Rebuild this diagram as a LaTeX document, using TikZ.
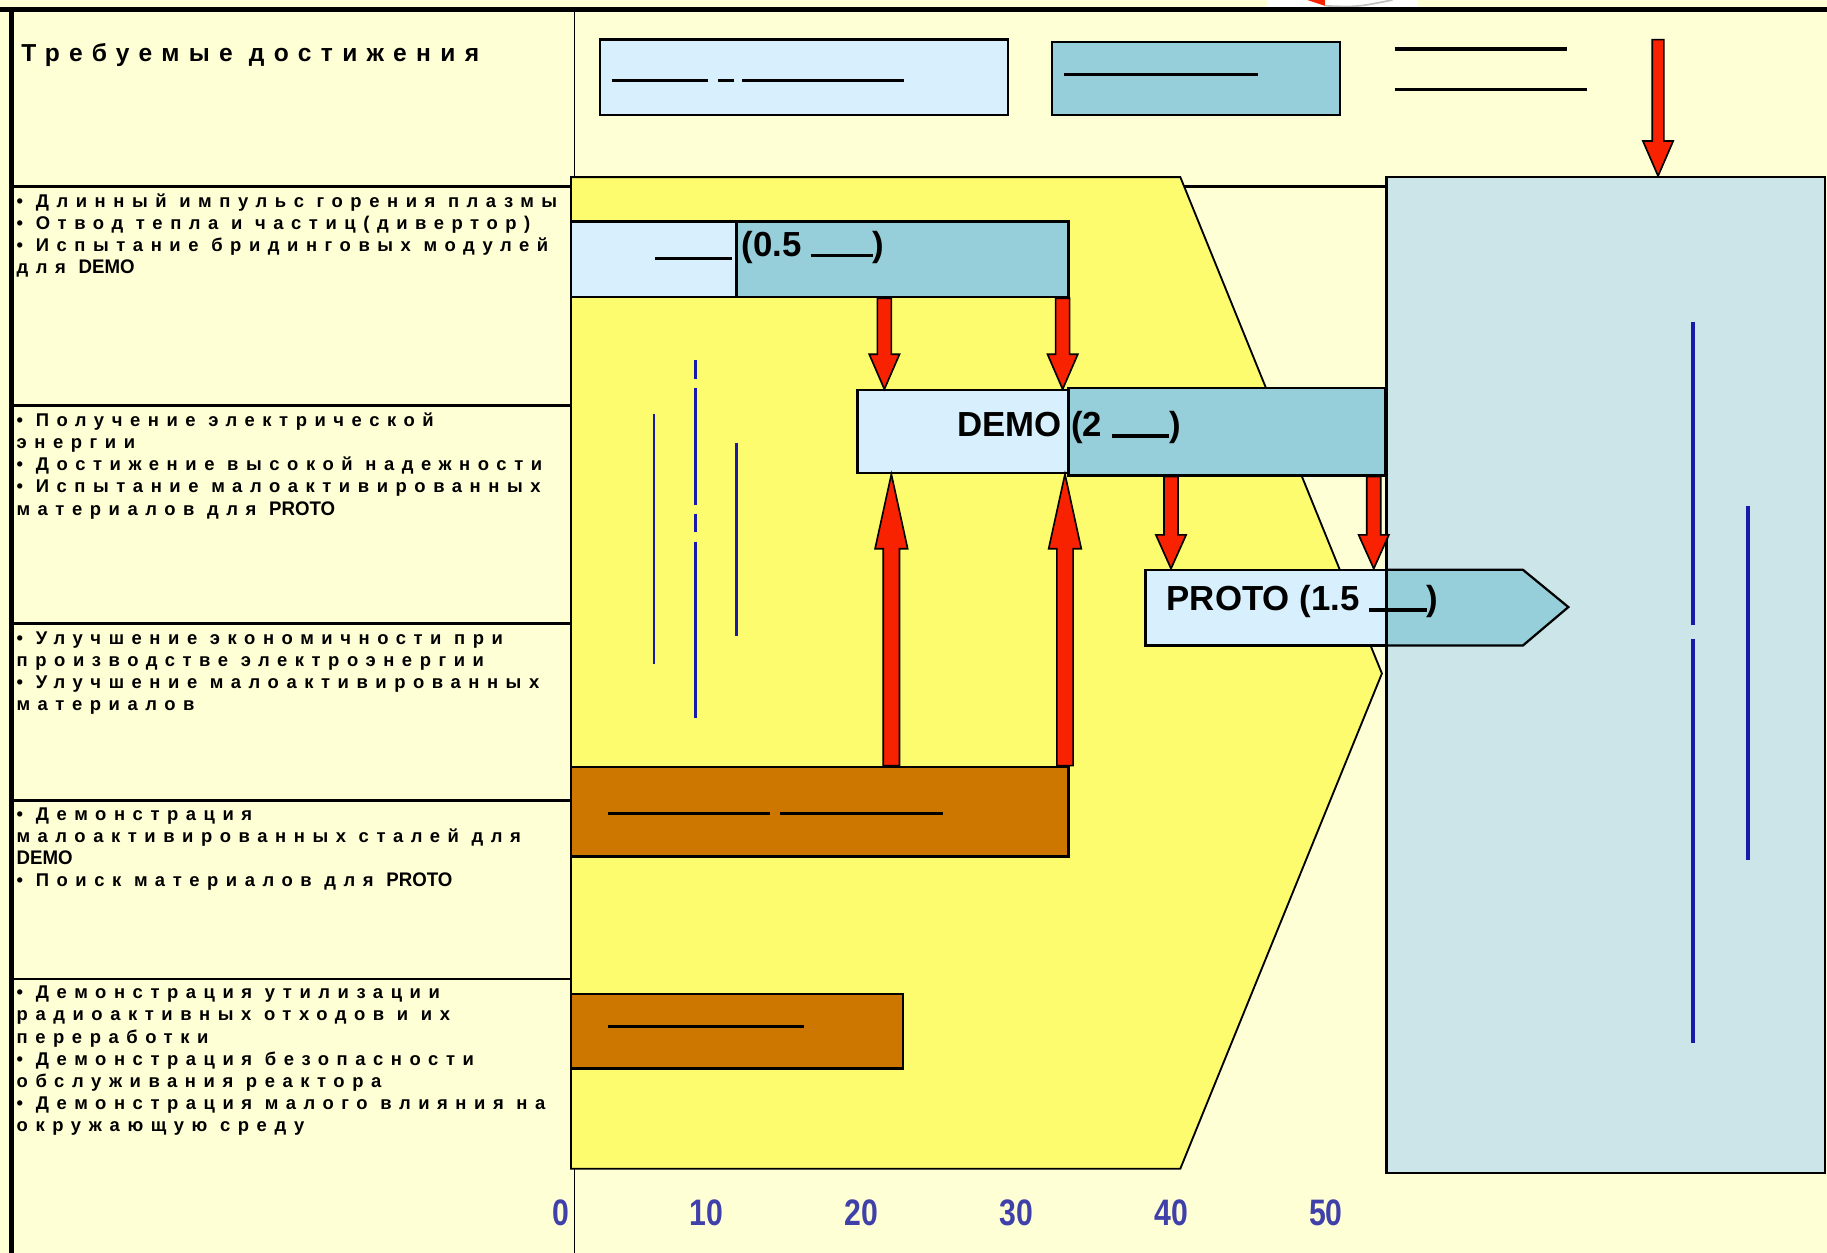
\documentclass[tikz,border=0pt]{standalone}
\usepackage{fontspec}
\setmainfont{Liberation Sans}
\newfontfamily\spfont{Liberation Sans}[LetterSpace=41]
\newfontfamily\latfont{Liberation Sans}[FakeStretch=0.95]
\newfontfamily\axfont{Liberation Sans}[FakeStretch=0.82]
\usetikzlibrary{positioning,fit,calc}
\definecolor{cream}{RGB}{255,255,214}
\definecolor{sun}{RGB}{252,252,110}
\definecolor{pale}{RGB}{216,239,253}
\definecolor{tealbar}{RGB}{150,207,218}
\definecolor{haze}{RGB}{204,229,233}
\definecolor{rust}{RGB}{205,119,0}
\definecolor{redarr}{RGB}{248,34,0}
\definecolor{inkblue}{RGB}{26,26,170}
\definecolor{axisblue}{RGB}{64,64,170}
\newcommand{\lat}[1]{{\latfont\bfseries\fontsize{9.6}{10.8}\selectfont #1}}
\newcommand{\blank}[1]{\rule[-0.5pt]{#1}{1.7pt}}
\def\pxu{0.569pt}
\newcommand{\blockarrow}[6]{%
  \draw[blockarrow] let \p1=(#2), \p2=(#3), \p3=(#1,0),
    \n2={ifthenelse(\y2>\y1,-1,1)*#6*0.569} in
    (\x3-#4*\pxu,\y1) -- (\x3-#4*\pxu,\y2+\n2) -- (\x3-#5*\pxu,\y2+\n2) -- (\x3,\y2)
    -- (\x3+#5*\pxu,\y2+\n2) -- (\x3+#4*\pxu,\y2+\n2) -- (\x3+#4*\pxu,\y1) -- cycle;}

\begin{document}
\begin{tikzpicture}[x=0.02cm,y=-0.02cm,
 rowtext/.style={anchor=north west,inner sep=0pt,align=left,
                 font=\spfont\bfseries\fontsize{9}{10.8}\selectfont},
 barbox/.style={draw=black,line width=1.1pt,inner sep=0pt},
 pale bar/.style={barbox,fill=pale},
 teal bar/.style={barbox,fill=tealbar},
 rust bar/.style={barbox,fill=rust},
 bartext/.style={anchor=base west,inner sep=0pt,font=\bfseries\fontsize{17}{20}\selectfont},
 axisnum/.style={anchor=base,inner sep=0pt,text=axisblue,font=\axfont\bfseries\fontsize{18}{20}\selectfont},
 blankline/.style={line width=1.7pt},
 sepline/.style={line width=1.1pt},
 blueline/.style={draw=inkblue,line width=1.1pt},
 blockarrow/.style={draw=black,line width=0.8pt,fill=redarr,line join=miter}
]
\useasboundingbox (0,0) rectangle (1568,1075);
\fill[cream] (0,0) rectangle (1568,1075);
\fill[white] (1087,0) rectangle (1217,6);
\fill[redarr] (1122,0) -- (1137,0) -- (1137,5) -- cycle;
\draw[gray!50,line width=0.8pt] (1137,5) .. controls (1165,6) .. (1195,0);
\draw[line width=0.9pt] (493,8) -- (493,1075);
\draw[sepline] (10,160) -- (1190,160);
\draw[sepline] (10,348) -- (490,348);
\draw[sepline] (10,535) -- (490,535);
\draw[sepline] (10,687) -- (490,687);
\draw[sepline] (10,840) -- (490,840);
\draw[line width=2.6pt] (0,8) -- (1568,8);
\draw[line width=2.6pt] (10,8) -- (10,1075);

\node[anchor=west,inner sep=0pt,font=\spfont\bfseries\fontsize{12}{14}\selectfont\addfontfeatures{LetterSpace=38}] (title) at (18,47) {Требуемые достижения};
\node[rowtext] (row1) at (14,166) {• Длинный импульс горения плазмы\\• Отвод тепла и частиц(дивертор)\\• Испытание бридинговых модулей\\для \lat{DEMO}};
\node[rowtext] (row2) at (14,354) {• Получение электрической\\энергии\\• Достижение высокой надежности\\• Испытание малоактивированных\\материалов для \lat{PROTO}};
\node[rowtext] (row3) at (14,542) {• Улучшение экономичности при\\производстве электроэнергии\\• Улучшение малоактивированных\\материалов};
\node[rowtext] (row4) at (14,693) {• Демонстрация\\малоактивированных сталей для\\\lat{DEMO}\\• Поиск материалов для \lat{PROTO}};
\node[rowtext] (row5) at (14,846) {• Демонстрация утилизации\\радиоактивных отходов и их\\переработки\\• Демонстрация безопасности\\обслуживания реактора\\• Демонстрация малого влияния на\\окружающую среду};

\draw[fill=sun,line width=0.9pt] (490,152) -- (1013,152) -- (1186,578) -- (1013,1003) -- (490,1003) -- cycle;
\node[barbox,fill=haze,fit={(1190,152)(1566,1007)}] (future) {};

\node[pale bar,fit={(515,34)(865,99)}] (keyPale) {};
\node[teal bar,fit={(903,36)(1150,99)}] (keyTeal) {};
\draw[blankline] (525,69) -- (608,69);
\draw[blankline] (616,69) -- (630,69);
\draw[blankline] (637,69) -- (776,69);
\draw[blankline] (913,64) -- (1080,64);
\draw[blankline] (1197,42) -- (1345,42);
\draw[blankline] (1197,77) -- (1362,77);

\node[pale bar,fit={(490,190)(632,255)}] (iterL) {};
\node[teal bar,fit={(632,190)(917,255)}] (iterR) {};
\node[pale bar,fit={(736,335)(917,406)}] (demoL) {};
\node[teal bar,fit={(917,333)(1189,408)}] (demoR) {};
\draw[line width=1.1pt,fill=tealbar] (1190,489) -- (1307,489) -- (1346,521) -- (1307,554) -- (1190,554) -- cycle;
\node[pale bar,fit={(983,489)(1190,554)}] (protoL) {};
\node[rust bar,fit={(490,658)(917,735)}] (steelBar) {};
\node[rust bar,fit={(490,853)(775,917)}] (wasteBar) {};

\draw[blankline] (562,222) -- (628,222);
\draw[blankline] (522,698) -- (661,698);
\draw[blankline] (669,698) -- (809,698);
\draw[blankline] (522,881) -- (690,881);

\node[bartext] (iterTxt) at (636,220) {(0.5 \blank{30pt})};
\node[bartext] (demoTxt) at (821,375) {DEMO (2 \blank{28pt})};
\node[bartext] (protoTxt) at (1001,524) {PROTO (1.5 \blank{28pt})};

\blockarrow{759}{iterR.south}{demoL.north}{6}{13}{30}
\blockarrow{912}{iterR.south}{demoL.north}{6}{13}{30}
\blockarrow{765}{steelBar.north}{demoL.south}{7}{14}{64}
\blockarrow{914}{steelBar.north}{demoL.south}{7}{14}{64}
\blockarrow{1005}{demoR.south}{protoL.north}{6}{13}{29}
\blockarrow{1179}{demoR.south}{protoL.north}{6}{13}{29}
\coordinate (drop) at (1423,34);
\blockarrow{1423}{drop}{future.north}{5}{13}{30}

\draw[blueline] (561,355) -- (561,570);
\draw[blueline] (597,309) -- (597,325);
\draw[blueline] (597,333) -- (597,433);
\draw[blueline] (597,441) -- (597,457);
\draw[blueline] (597,465) -- (597,616);
\draw[blueline] (632,380) -- (632,546);
\draw[blueline,line width=1.7pt] (1453,276) -- (1453,536);
\draw[blueline,line width=1.7pt] (1453,548) -- (1453,895);
\draw[blueline,line width=1.7pt] (1500,434) -- (1500,738);

\node[axisnum] (n0) at (481,1052) {0};
\node[axisnum] (n10) at (606,1052) {10};
\node[axisnum] (n20) at (739,1052) {20};
\node[axisnum] (n30) at (872,1052) {30};
\node[axisnum] (n40) at (1005,1052) {40};
\node[axisnum] (n50) at (1138,1052) {50};
\end{tikzpicture}
\end{document}
